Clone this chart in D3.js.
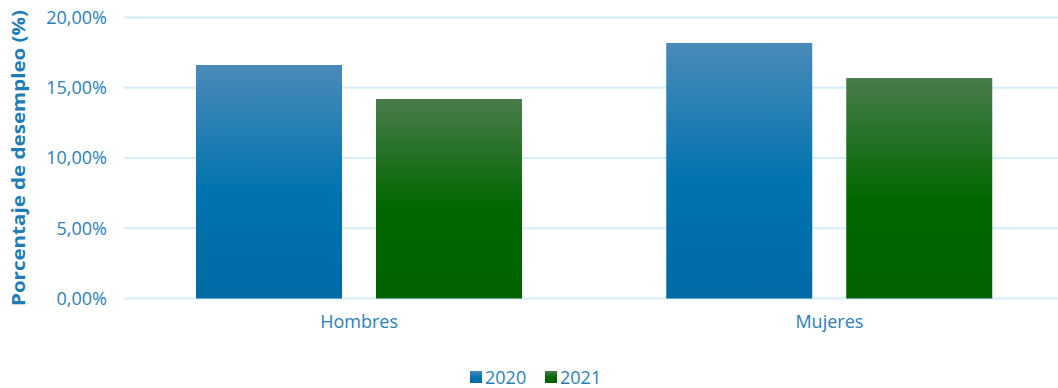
<!DOCTYPE html>
<html lang="es">
<head>
	<meta charset="UTF-8">
	<script src="https://cdn.jsdelivr.net/npm/d3@7"></script>
	<style>
		body { margin: 0; background: #fff; }
		svg { display: block; font-family: "Open Sans", sans-serif; }
		.tick text { fill: #2a80b9; }
	</style>
</head>
<body>
	<svg width="1058" height="388"></svg>
	<script>
		// data
		const categories = ['Hombres', 'Mujeres'];
		const years = ['2020', '2021'];
		const values2020 = [16.62, 18.19];
		const values2021 = [14.2, 15.69];
		const yTicks = [0, 5, 10, 15, 20];

		const width = 1058;
		const height = 388;
		const margin = { top: 17.5, right: -6.5, bottom: 89.5, left: 124 };
		const textColor = '#2a80b9';
		const font = '"Open Sans", sans-serif';

		const svg = d3.select('svg');
		const defs = svg.append('defs');

		const gradients = [
			{ id: 'g2020', top: '#4a8aba', mid: '#0073ae', bot: '#006aa5' },
			{ id: 'g2021', top: '#497c4a', mid: '#006700', bot: '#006200' }
		];
		gradients.forEach(g => {
			const lg = defs.append('linearGradient')
				.attr('id', g.id)
				.attr('x1', 0).attr('y1', 0).attr('x2', 0).attr('y2', 1);
			lg.append('stop').attr('offset', '0%').attr('stop-color', g.top);
			lg.append('stop').attr('offset', '55%').attr('stop-color', g.mid);
			lg.append('stop').attr('offset', '100%').attr('stop-color', g.bot);
		});

		const x = d3.scaleBand()
			.domain(categories)
			.range([margin.left, width - margin.right]);

		// two bars of 146px with a 34px gap inside each 470px band
		const x1 = d3.scaleBand()
			.domain(years)
			.range([72, 470 - 72])
			.paddingInner(34 / 180);

		const y = d3.scaleLinear()
			.domain([0, 20])
			.range([height - margin.bottom, margin.top]);

		// grid
		svg.append('g')
			.selectAll('line')
			.data(yTicks)
			.enter()
			.append('line')
			.attr('x1', margin.left)
			.attr('x2', width)
			.attr('y1', d => y(d))
			.attr('y2', d => y(d))
			.attr('stroke', '#d4effb')
			.attr('stroke-width', 2);

		// y axis labels
		const yAxis = d3.axisLeft(y)
			.tickValues(yTicks)
			.tickSize(0)
			.tickPadding(17)
			.tickFormat(d => d.toFixed(2).replace('.', ',') + '%');

		svg.append('g')
			.attr('transform', `translate(${margin.left},0)`)
			.call(yAxis)
			.attr('font-family', font)
			.call(g => g.select('.domain').remove())
			.selectAll('text')
			.style('font-size', '18px');

		// bars
		const rows = categories.map((c, i) => ({ cat: c, vals: [values2020[i], values2021[i]] }));

		const groups = svg.append('g')
			.selectAll('g')
			.data(rows)
			.enter()
			.append('g')
			.attr('transform', d => `translate(${x(d.cat)},0)`);

		groups.selectAll('rect')
			.data(d => d.vals.map((v, j) => ({ year: years[j], v: v })))
			.enter()
			.append('rect')
			.attr('x', d => x1(d.year))
			.attr('width', x1.bandwidth())
			.attr('y', d => y(d.v))
			.attr('height', d => y(0) - y(d.v))
			.attr('fill', d => `url(#g${d.year})`);

		// x axis labels
		const xAxis = d3.axisBottom(x).tickSize(0).tickPadding(17);
		svg.append('g')
			.attr('transform', `translate(0,${y(0)})`)
			.call(xAxis)
			.attr('font-family', font)
			.call(g => g.select('.domain').remove())
			.selectAll('text')
			.style('font-size', '18px');

		// y title
		svg.append('text')
			.attr('transform', `translate(25,${(y(0) + y(20)) / 2}) rotate(-90)`)
			.attr('text-anchor', 'middle')
			.attr('fill', '#1d7db8')
			.attr('textLength', 296)
			.attr('lengthAdjust', 'spacingAndGlyphs')
			.style('font-size', '18px')
			.style('font-weight', 'bold')
			.text('Porcentaje de desempleo (%)');

		// legend
		const legendX = [470, 545];
		const legend = svg.append('g')
			.selectAll('g')
			.data(years)
			.enter()
			.append('g')
			.attr('transform', (d, i) => `translate(${legendX[i]},371)`);

		legend.append('rect')
			.attr('width', 12)
			.attr('height', 12)
			.attr('fill', d => `url(#g${d})`);

		legend.append('text')
			.attr('x', 15)
			.attr('y', 13)
			.attr('fill', textColor)
			.style('font-size', '18px')
			.text(d => d);
	</script>
</body>
</html>
